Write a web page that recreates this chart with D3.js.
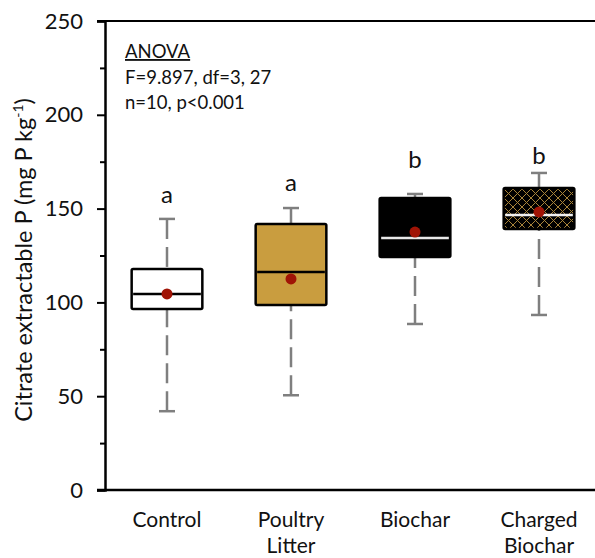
<!DOCTYPE html>
<html>
<head>
<meta charset="utf-8">
<script src="https://cdn.jsdelivr.net/npm/d3@7"></script>
<style>
  body { margin: 0; background: #fff; }
  svg text { font-family: Lato, "Open Sans", sans-serif; fill: #111; }
</style>
</head>
<body>
<svg width="595" height="558"></svg>
<script>
// groups and box statistics (mg P kg-1)
const groups = ["Control", "Poultry Litter", "Biochar", "Charged Biochar"];
const whiskerLow = [42, 50.5, 88.5, 93.3];
const q1 = [96.5, 98.6, 124.2, 139.1];
const median = [104.5, 116.2, 134.3, 146.6];
const q3 = [117.8, 141.8, 155.6, 161];
const whiskerHigh = [144.5, 150.3, 157.8, 169];
const means = [104.5, 112.5, 137.5, 148.2];
const letters = ["a", "a", "b", "b"];
const letterY = [153, 159.5, 171.6, 173.8]; // value level of the letter baseline
const yTicks = [0, 50, 100, 150, 200, 250];
const yMinor = [25, 75, 125, 175, 225];

const svg = d3.select("svg");

const x = d3.scaleBand()
    .domain(groups)
    .range([105, 601])
    .paddingInner(0.43)
    .paddingOuter(0.215);

const y = d3.scaleLinear()
    .domain([0, 250])
    .range([490, 21]);

// hatch for charged biochar
const defs = svg.append("defs");
const pat = defs.append("pattern")
    .attr("id", "hatch")
    .attr("patternUnits", "userSpaceOnUse")
    .attr("width", 9).attr("height", 9);
pat.append("rect").attr("width", 9).attr("height", 9).attr("fill", "#000");
pat.append("path").attr("d", "M0,0L9,9M9,0L0,9")
    .attr("stroke", "#a8843a").attr("stroke-width", 1);

const data = groups.map((g, i) => ({
    name: g, lo: whiskerLow[i], q1: q1[i], med: median[i],
    q3: q3[i], hi: whiskerHigh[i], mean: means[i], letter: letters[i], ly: letterY[i], i: i
}));

const fills = ["#fff", "#c99d3f", "#000", "url(#hatch)"];
const medColor = ["#000", "#000", "#e8e8e8", "#f0f0f0"];

// frame: top line
svg.append("line")
    .attr("x1", 97).attr("x2", 595)
    .attr("y1", y(250)).attr("y2", y(250))
    .attr("stroke", "#000").attr("stroke-width", 2);

// y axis
const yAxis = svg.append("g")
    .attr("transform", "translate(105,0)")
    .call(d3.axisLeft(y).tickValues(yTicks).tickSize(8).tickPadding(14));
yAxis.select(".domain").attr("stroke-width", 2.5);
yAxis.selectAll(".tick line").attr("stroke-width", 2);
yAxis.selectAll(".tick text")
    .style("font-size", "22px")
    .attr("fill", "#111");

svg.append("g")
    .attr("transform", "translate(105,0)")
    .call(d3.axisLeft(y).tickValues(yMinor).tickSize(5).tickFormat(""))
    .call(g => g.select(".domain").remove())
    .selectAll(".tick line").attr("stroke-width", 2);

// x axis
svg.append("line")
    .attr("x1", 97).attr("x2", 595)
    .attr("y1", y(0)).attr("y2", y(0))
    .attr("stroke", "#000").attr("stroke-width", 2.5);

// category labels, one text per line
const xl = svg.append("g").selectAll("g").data(groups).enter().append("g");
xl.each(function(d) {
    const g = d3.select(this);
    d.split(" ").forEach((w, k) => {
        g.append("text")
            .attr("x", x(d) + x.bandwidth() / 2)
            .attr("y", 527 + k * 25.5)
            .attr("text-anchor", "middle")
            .style("font-size", "21px")
            .text(w);
    });
});

// y title
svg.append("text")
    .attr("transform", "translate(32," + 260 + ") rotate(-90)")
    .attr("text-anchor", "middle")
    .style("font-size", "23.5px")
    .html('Citrate extractable P (mg P kg<tspan dy="-9" font-size="14px">-1</tspan><tspan dy="9">)</tspan>');

// boxes
const box = svg.append("g").selectAll("g").data(data).enter().append("g");
const cx = d => x(d.name) + x.bandwidth() / 2;

// whiskers
box.append("line")
    .attr("x1", cx).attr("x2", cx)
    .attr("y1", d => y(d.hi)).attr("y2", d => y(d.q3))
    .attr("stroke", "#7f7f7f").attr("stroke-width", 2.5)
    .attr("stroke-dasharray", "20,8");
box.append("line")
    .attr("x1", cx).attr("x2", cx)
    .attr("y1", d => y(d.lo)).attr("y2", d => y(d.q1))
    .attr("stroke", "#7f7f7f").attr("stroke-width", 2.5)
    .attr("stroke-dasharray", "20,8");
box.selectAll(".cap").data(d => [d.lo, d.hi].map(v => ({v: v, d: d}))).enter().append("line")
    .attr("x1", e => cx(e.d) - 8).attr("x2", e => cx(e.d) + 8)
    .attr("y1", e => y(e.v)).attr("y2", e => y(e.v))
    .attr("stroke", "#7f7f7f").attr("stroke-width", 2.5);

box.append("rect")
    .attr("x", d => x(d.name))
    .attr("width", x.bandwidth())
    .attr("y", d => y(d.q3))
    .attr("height", d => y(d.q1) - y(d.q3))
    .attr("rx", 1.5)
    .attr("fill", d => fills[d.i])
    .attr("stroke", "#000").attr("stroke-width", 2.5);

box.append("line")
    .attr("x1", d => x(d.name) + 1.5).attr("x2", d => x(d.name) + x.bandwidth() - 1.5)
    .attr("y1", d => y(d.med)).attr("y2", d => y(d.med))
    .attr("stroke", d => medColor[d.i]).attr("stroke-width", 2.5);

box.append("circle")
    .attr("cx", cx)
    .attr("cy", d => y(d.mean))
    .attr("r", 5.5)
    .attr("fill", "#a01406");

box.append("text")
    .attr("x", cx)
    .attr("y", d => y(d.ly))
    .attr("text-anchor", "middle")
    .style("font-size", "24px")
    .text(d => d.letter);

// anova note
const note = svg.append("g").style("font-size", "18.5px");
note.append("text").attr("x", 125).attr("y", 58).text("ANOVA")
    .attr("text-decoration", "underline");
note.append("text").attr("x", 125).attr("y", 84).text("F=9.897, df=3, 27");
note.append("text").attr("x", 125).attr("y", 109).text("n=10, p<0.001");
</script>
</body>
</html>
